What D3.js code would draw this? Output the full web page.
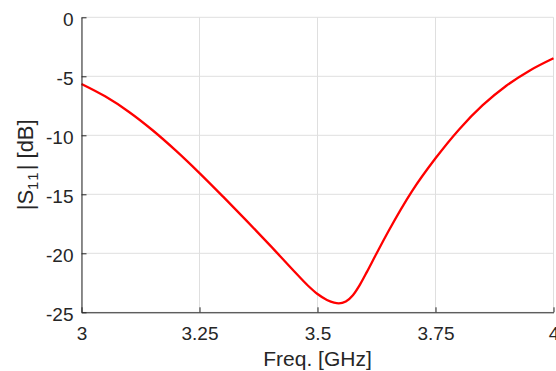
<!DOCTYPE html>
<html>
<head>
<meta charset="utf-8">
<script src="https://cdn.jsdelivr.net/npm/d3@7"></script>
<style>
  html, body { margin: 0; padding: 0; background: #fff; }
  svg { display: block; }
  text { font-family: "Liberation Sans", Arial, Helvetica, sans-serif; fill: #262626; }
</style>
</head>
<body>
<svg id="chart" width="556" height="371"></svg>
<script>
// Data
const freqGHz = [3.00, 3.05, 3.10, 3.15, 3.20, 3.25, 3.30, 3.35, 3.40, 3.45, 3.48, 3.50, 3.52, 3.535, 3.545, 3.56, 3.575, 3.59, 3.605, 3.622, 3.65, 3.70, 3.75, 3.80, 3.85, 3.90, 3.95, 4.00];
const s11dB   = [-5.65, -6.7, -8.0, -9.55, -11.3, -13.2, -15.2, -17.25, -19.35, -21.5, -22.75, -23.45, -23.95, -24.18, -24.24, -24.08, -23.55, -22.65, -21.55, -20.25, -18.15, -14.75, -11.95, -9.5, -7.45, -5.8, -4.5, -3.47];
const xTicks = [3, 3.25, 3.5, 3.75, 4];
const xTickLabels = ["3", "3.25", "3.5", "3.75", "4"];
const yTicks = [0, -5, -10, -15, -20, -25];
const yTickLabels = ["0", "-5", "-10", "-15", "-20", "-25"];

const svg = d3.select("#chart");
const margin = { left: 81.5, right: 2.5, top: 17.3, bottom: 58.7 };
const W = 556, H = 371;
const x = d3.scaleLinear().domain([3, 4]).range([margin.left, W - margin.right]);
const y = d3.scaleLinear().domain([-25, 0]).range([H - margin.bottom, margin.top]);

const axisColor = "#262626";

// Grid
const grid = svg.append("g");
grid.selectAll("line.gx").data(xTicks).enter().append("line")
  .attr("x1", d => x(d)).attr("x2", d => x(d))
  .attr("y1", y(-25)).attr("y2", y(0))
  .attr("stroke", "#dfdfdf").attr("stroke-width", 1);
grid.selectAll("line.gy").data(yTicks).enter().append("line")
  .attr("x1", x(3)).attr("x2", x(4))
  .attr("y1", d => y(d)).attr("y2", d => y(d))
  .attr("stroke", "#dfdfdf").attr("stroke-width", 1);

// Curve
const line = d3.line()
  .x((d, i) => x(freqGHz[i]))
  .y(d => y(d))
  .curve(d3.curveMonotoneX);
svg.append("path")
  .datum(s11dB)
  .attr("d", line)
  .attr("fill", "none")
  .attr("stroke", "#ff0000")
  .attr("stroke-width", 2.3)
  .attr("stroke-linejoin", "round");

// Axes (MATLAB style, inward ticks)
const xAxis = d3.axisBottom(x).tickValues(xTicks)
  .tickFormat((d, i) => xTickLabels[i]).tickSizeInner(-5).tickSizeOuter(0).tickPadding(14);
const gx = svg.append("g").attr("transform", `translate(0,${y(-25)})`).call(xAxis);
gx.select(".domain").attr("stroke", axisColor);
gx.selectAll(".tick line").attr("stroke", axisColor);
gx.selectAll(".tick text").attr("font-size", "19px").attr("fill", axisColor)
  .attr("font-family", "'Liberation Sans', Arial, sans-serif");

const yAxis = d3.axisLeft(y).tickValues(yTicks)
  .tickFormat((d, i) => yTickLabels[i]).tickSizeInner(-5).tickSizeOuter(0).tickPadding(8);
const gy = svg.append("g").attr("transform", `translate(${x(3)},0)`).call(yAxis);
gy.select(".domain").attr("stroke", axisColor);
gy.selectAll(".tick line").attr("stroke", axisColor);
gy.selectAll(".tick text").attr("font-size", "19px").attr("fill", axisColor)
  .attr("dy", "0.45em")
  .attr("font-family", "'Liberation Sans', Arial, sans-serif");

// Axis labels
svg.append("text")
  .attr("x", (x(3) + x(4)) / 2).attr("y", 366)
  .attr("text-anchor", "middle").attr("font-size", "21px")
  .text("Freq. [GHz]");

const yl = svg.append("text")
  .attr("transform", `translate(33,${(y(-25) + y(0)) / 2}) rotate(-90)`)
  .attr("text-anchor", "middle").attr("font-size", "22px");
yl.append("tspan").text("|S");
yl.append("tspan").attr("font-size", "15px").attr("dy", "5").attr("letter-spacing", "2px").text("11");
yl.append("tspan").attr("dy", "-5").text("| [dB]");
</script>
</body>
</html>
